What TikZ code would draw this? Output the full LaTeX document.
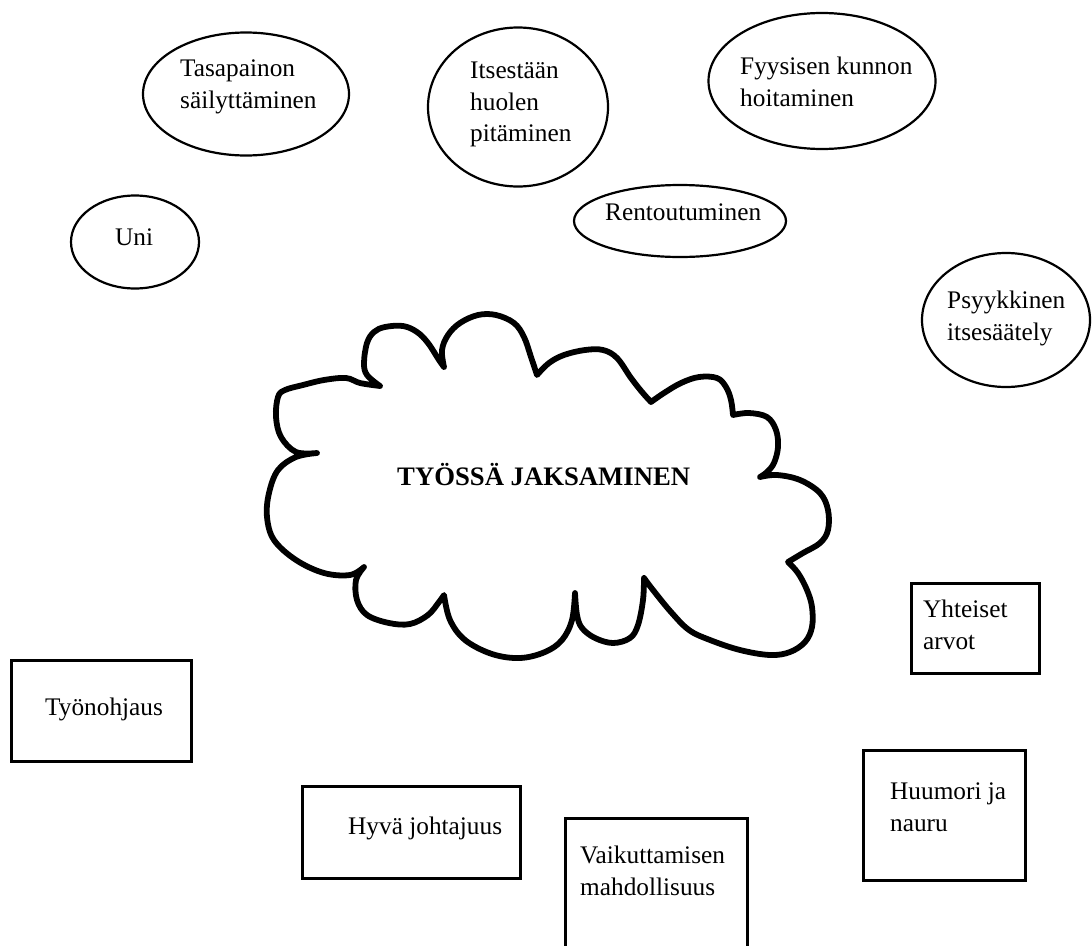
\documentclass[tikz,border=0pt]{standalone}
\usepackage{fontspec}
\setmainfont{Liberation Serif}
\usetikzlibrary{shapes.geometric}
\tikzset{
  ell/.style={draw, ellipse, line width=2.2pt, inner sep=0pt},
  boxr/.style={draw, rectangle, line width=3pt, inner sep=0pt},
  lbl/.style={anchor=north west, inner sep=0pt, align=left, font=\fontsize{25.3}{31.5}\selectfont},
  cloudline/.style={line width=5.8pt, line join=round, line cap=round},
  smo/.style={smooth, tension=0.6}
}
\begin{document}
\begin{tikzpicture}[x=1pt, y=-1pt]
\useasboundingbox[fill=white] (0,0) rectangle (1092,945);

% ellipses
\node[ell, minimum width=206pt, minimum height=123pt] (tasa) at (246,94) {};
\node[ell, minimum width=180pt, minimum height=159pt] (itse) at (518,107) {};
\node[ell, minimum width=227pt, minimum height=136pt] (fyys) at (822,81) {};
\node[ell, minimum width=212pt, minimum height=72pt] (rent) at (680,221) {};
\node[ell, minimum width=128pt, minimum height=93pt] (uni) at (135,242) {};
\node[ell, minimum width=168pt, minimum height=134pt] (psyk) at (1006,320) {};

\node[lbl] (tasaT) at (180,60) {Tasapainon\\säilyttäminen};
\node[lbl] (itseT) at (470,62) {Itsestään\\huolen\\pitäminen};
\node[lbl] (fyysT) at (740,57) {Fyysisen kunnon\\hoitaminen};
\node[lbl] (rentT) at (605,204) {Rentoutuminen};
\node[lbl] (uniT) at (115,229) {Uni};
\node[lbl] (psykT) at (947,291) {Psyykkinen\\itsesäätely};

% rectangles
\node[boxr, minimum width=180pt, minimum height=101pt] (tyon) at (101.5,711) {};
\node[boxr, minimum width=218pt, minimum height=92pt] (hyva) at (411.5,832.5) {};
\node[boxr, minimum width=182pt, minimum height=143pt] (vaik) at (656.5,890) {};
\node[boxr, minimum width=128pt, minimum height=90pt] (yhte) at (975.5,628.5) {};
\node[boxr, minimum width=162pt, minimum height=130pt] (huum) at (944.5,815.5) {};

\node[lbl] (tyonT) at (45,698) {Työnohjaus};
\node[lbl] (hyvaT) at (348,817) {Hyvä johtajuus};
\node[lbl] (vaikT) at (580,846) {Vaikuttamisen\\mahdollisuus};
\node[lbl] (yhteT) at (923,600) {Yhteiset\\arvot};
\node[lbl] (huumT) at (890,783) {Huumori ja\\nauru};

% cloud
\draw[cloudline]
  plot[smo] coordinates {(317,453) (296,452) (281,437) (276,417) (278,397) (285,390) (303,385) (324,380) (346,378) (360,383) (380,386)}
  -- plot[smo] coordinates {(380,386) (367,375) (364,363) (367,343) (374,332) (385,327) (403,326) (417,332) (428,343) (439,360) (444,367)}
  -- plot[smo] coordinates {(444,367) (442,350) (448,335) (460,323) (478,315) (496,315) (514,323) (524,337) (531,357) (537,375)}
  -- plot[smo] coordinates {(537,375) (549,363) (564,355) (585,350) (603,350) (617,358) (631,378) (642,392) (651,402)}
  -- plot[smo] coordinates {(651,402) (664,393) (681,383) (699,377) (717,378) (726,387) (731,400) (733,415)}
  -- plot[smo] coordinates {(733,415) (749,413) (767,417) (776,430) (778,447) (774,463) (767,472) (760,477)}
  -- plot[smo] coordinates {(760,477) (777,475) (800,480) (820,493) (828,510) (828,530) (820,543) (803,553) (788,562)}
  -- plot[smo] coordinates {(788,562) (798,573) (807,590) (812,607) (812,627) (805,642) (790,652) (770,655) (740,650) (710,640) (689,630) (671,612) (653,590) (644,578)}
  -- plot[smo] coordinates {(644,578) (643,600) (638,625) (630,638) (613,643) (595,638) (582,628) (577,615) (575,593)}
  -- plot[smo] coordinates {(575,593) (572,620) (562,640) (545,652) (520,658) (492,654) (465,640) (450,620) (444,595)}
  -- plot[smo] coordinates {(444,595) (439,602) (428,615) (410,624) (389,623) (367,615) (357,600) (356,580) (364,567)}
  -- plot[smo] coordinates {(364,567) (350,575) (324,573) (296,560) (274,540) (267,517) (269,493) (278,470) (296,457) (317,453)}
  -- cycle;
\node[anchor=base west, inner sep=0pt, font=\fontsize{26.7}{31}\selectfont\bfseries] (center) at (397,485) {TYÖSSÄ JAKSAMINEN};
\end{tikzpicture}
\end{document}
